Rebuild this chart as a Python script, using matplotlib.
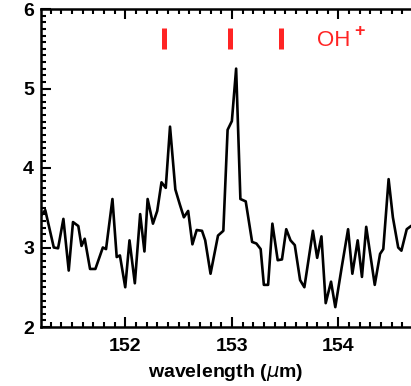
import numpy as np
import matplotlib.pyplot as plt
from matplotlib.ticker import MultipleLocator

# spectrum around the OH+ lines (wavelength in micron, flux)
wave = [151.21, 151.25, 151.33, 151.37, 151.42, 151.47, 151.51, 151.56, 151.59, 151.62,
        151.67, 151.72, 151.79, 151.82, 151.88, 151.92, 151.95, 152.00, 152.04, 152.09,
        152.14, 152.18, 152.21, 152.26, 152.30, 152.34, 152.38, 152.42, 152.47, 152.51,
        152.55, 152.59, 152.63, 152.67, 152.72, 152.75, 152.80, 152.87, 152.92, 152.96,
        153.00, 153.04, 153.08, 153.13, 153.19, 153.23, 153.27, 153.30, 153.34, 153.38,
        153.43, 153.47, 153.51, 153.55, 153.59, 153.64, 153.68, 153.76, 153.80, 153.84,
        153.88, 153.93, 153.97, 154.03, 154.09, 154.13, 154.18, 154.22, 154.26, 154.34,
        154.39, 154.42, 154.47, 154.51, 154.56, 154.59, 154.64, 154.68, 154.72]
flux = [3.40, 3.47, 3.00, 2.99, 3.36, 2.71, 3.32, 3.27, 3.02, 3.11,
        2.73, 2.73, 3.00, 2.98, 3.61, 2.88, 2.90, 2.50, 3.09, 2.55,
        3.42, 2.95, 3.61, 3.30, 3.46, 3.82, 3.75, 4.52, 3.73, 3.55,
        3.38, 3.46, 3.04, 3.22, 3.21, 3.09, 2.67, 3.15, 3.21, 4.48,
        4.59, 5.25, 3.61, 3.58, 3.07, 3.05, 2.98, 2.53, 2.53, 3.30,
        2.84, 2.85, 3.23, 3.09, 3.03, 2.59, 2.50, 3.21, 2.87, 3.14,
        2.30, 2.57, 2.25, 2.75, 3.23, 2.67, 3.09, 2.63, 3.26, 2.53,
        2.92, 2.98, 3.86, 3.38, 3.00, 2.96, 3.23, 3.27, 3.30]

# OH+ line positions
oh_lines = [152.36, 152.98, 153.46]
mark_lo, mark_hi = 5.50, 5.76
red = '#ff2424'

fig = plt.figure(figsize=(4.11, 3.86), dpi=100)
ax = fig.add_axes([41 / 411, 59 / 386, 1 - 41 / 411, 318 / 386])

ax.plot(wave, flux, color='black', lw=1.9)
ax.vlines(oh_lines, mark_lo, mark_hi, color=red, lw=3.6)
ax.text(153.80, 5.61, 'OH', color=red, fontsize=16, va='center', ha='left',
        family='Liberation Sans')
ax.text(154.20, 5.72, '+', color=red, fontsize=13, va='center', ha='center',
        family='Liberation Sans', fontweight='bold')

ax.set_xlim(151.21, 154.68)
ax.set_ylim(2, 6)
ax.xaxis.set_major_locator(MultipleLocator(1))
ax.xaxis.set_minor_locator(MultipleLocator(0.1))
ax.yaxis.set_major_locator(MultipleLocator(1))
ax.yaxis.set_minor_locator(MultipleLocator(1 / 12))
ax.tick_params(which='both', direction='in', top=True, right=False, width=1.5)
ax.tick_params(which='major', length=7, labelsize=14)
ax.tick_params(axis='x', which='major', pad=8)
ax.tick_params(axis='y', which='major', pad=5)
ax.tick_params(which='minor', length=3.5)
for lab in ax.get_xticklabels() + ax.get_yticklabels():
    lab.set_family('Liberation Sans')
    lab.set_fontweight('bold')
for side in ['left', 'bottom', 'top']:
    ax.spines[side].set_linewidth(1.8)
ax.spines['right'].set_visible(False)

ax.set_xlabel(r'wavelength ($\mu$m)', fontsize=14, family='Liberation Sans',
              fontweight='bold', labelpad=5)

fig.savefig('out.png', dpi=100)
